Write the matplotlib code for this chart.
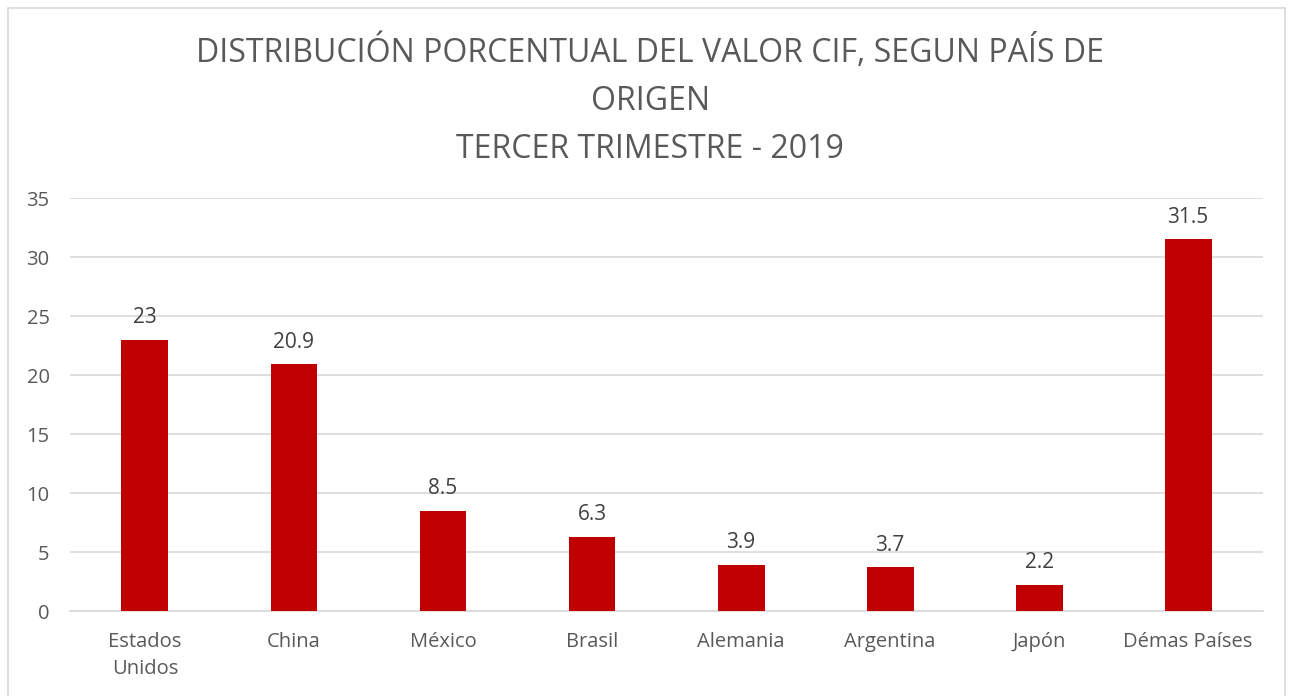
import matplotlib.pyplot as plt
from matplotlib.patches import Rectangle

plt.rcParams['font.family'] = ['Open Sans', 'DejaVu Sans']

# datos
paises = ['Estados\nUnidos', 'China', 'México', 'Brasil', 'Alemania',
          'Argentina', 'Japón', 'Démas Países']
valores = [23, 20.9, 8.5, 6.3, 3.9, 3.7, 2.2, 31.5]
etiquetas = ['23', '20.9', '8.5', '6.3', '3.9', '3.7', '2.2', '31.5']
yticks = [0, 5, 10, 15, 20, 25, 30, 35]

titulo = ('DISTRIBUCIÓN PORCENTUAL DEL VALOR CIF, SEGUN PAÍS DE\n'
          'ORIGEN\nTERCER TRIMESTRE - 2019')

fig = plt.figure(figsize=(12.95, 6.96), dpi=100)
ax = fig.add_axes([0.0544, 0.1221, 0.9206, 0.5934])

x = range(len(paises))
ax.bar(x, valores, width=0.315, color='#C00000', zorder=3)
for xi, v, t in zip(x, valores, etiquetas):
    ax.text(xi, v + 1.0, t, ha='center', va='bottom', fontsize=15,
            color='#404040')

ax.set_xlim(-0.5, len(paises) - 0.5)
ax.set_ylim(0, 35)
ax.set_yticks(yticks)
ax.set_xticks(list(x))
ax.set_xticklabels(paises, fontsize=14.5, color='#595959', linespacing=1.5)
ax.tick_params(axis='y', labelsize=14.5, labelcolor='#595959', length=0, pad=15)
ax.tick_params(axis='x', length=0, pad=15)
ax.grid(axis='y', color='#D9D9D9', linewidth=1.2, zorder=0)
for s in ['top', 'right', 'left']:
    ax.spines[s].set_visible(False)
ax.spines['bottom'].set_color('#D9D9D9')
ax.spines['bottom'].set_linewidth(1.2)

fig.text(0.502, 0.950, titulo, ha='center', va='top', fontsize=23,
         color='#595959', linespacing=1.6)

# borde del grafico
fig.patches.append(Rectangle((8 / 1295, -0.01), 1277 / 1295, 0.998,
                             transform=fig.transFigure, fill=False,
                             edgecolor='#D9D9D9', linewidth=1.2))

fig.savefig('out.png', dpi=100)
